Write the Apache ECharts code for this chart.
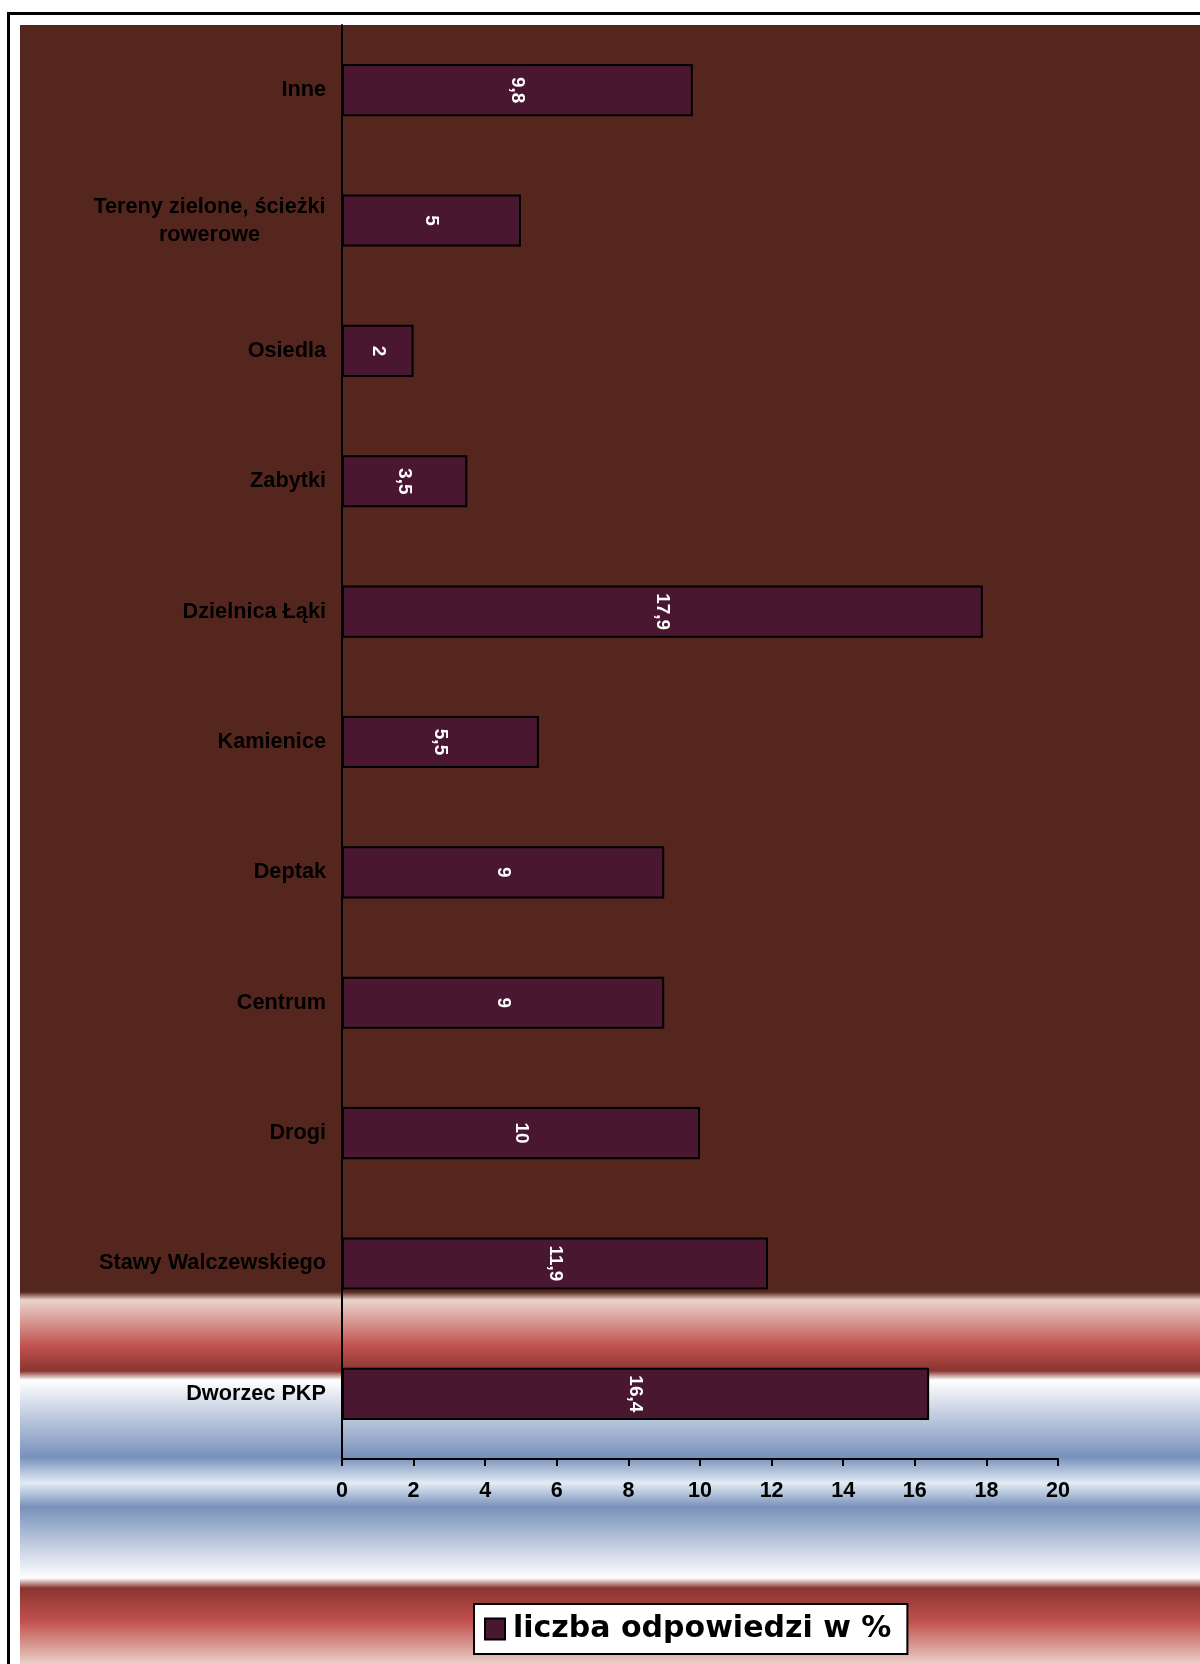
<!DOCTYPE html>
<html>
<head>
<meta charset="utf-8">
<script src="https://cdn.jsdelivr.net/npm/echarts@6/dist/echarts.min.js"></script>
<style>
html,body{margin:0;padding:0;background:#ffffff;}
#chart{width:1200px;height:1664px;}
</style>
</head>
<body>
<div id="chart"></div>
<script>
// Categories listed top to bottom
const categories = ['Inne', 'Tereny zielone, ścieżki\nrowerowe', 'Osiedla', 'Zabytki', 'Dzielnica Łąki', 'Kamienice', 'Deptak', 'Centrum', 'Drogi', 'Stawy Walczewskiego', 'Dworzec PKP'];
const values = [9.8, 5, 2, 3.5, 17.9, 5.5, 9, 9, 10, 11.9, 16.4];
const seriesName = 'liczba odpowiedzi w %';
const xTicks = [0, 20, 2]; // min, max, interval

const chart = echarts.init(document.getElementById('chart'), null, {renderer: 'canvas'});

const bgTop = 25, bgH = 1639;
function off(y) { return (y - bgTop) / bgH; }

const option = {
  animation: false,
  backgroundColor: '#ffffff',
  graphic: [
    {
      type: 'rect', z: -10, silent: true,
      shape: {x: 20, y: bgTop, width: 1200, height: bgH},
      style: {
        fill: new echarts.graphic.LinearGradient(0, 0, 0, 1, [
          {offset: 0, color: '#55261e'},
          {offset: off(1292), color: '#55261e'},
          {offset: off(1300), color: '#ead4cc'},
          {offset: off(1347), color: '#c0504d'},
          {offset: off(1371), color: '#8a3530'},
          {offset: off(1380), color: '#ffffff'},
          {offset: off(1457), color: '#7891bb'},
          {offset: off(1483), color: '#e2ecf5'},
          {offset: off(1507), color: '#7891bb'},
          {offset: off(1578), color: '#ffffff'},
          {offset: off(1588), color: '#8a3530'},
          {offset: off(1621), color: '#c0504d'},
          {offset: 1, color: '#ead0c8'}
        ])
      }
    },
    {
      type: 'rect', z: 100, silent: true,
      shape: {x: 8.5, y: 13.5, width: 1230, height: 1700},
      style: {fill: 'none', stroke: '#000000', lineWidth: 3}
    }
  ],
  grid: {left: 342, right: 142, top: 25, bottom: 205, containLabel: false},
  legend: {
    left: 474, top: 1604,
    padding: [10, 16, 10, 10],
    backgroundColor: '#ffffff',
    borderColor: '#000000', borderWidth: 2, borderRadius: 0,
    itemWidth: 20, itemHeight: 21,
    icon: 'rect',
    textStyle: {fontFamily: 'DejaVu Sans', fontWeight: 'bold', fontSize: 30, color: '#000000', padding: [0, 0, 0, 3]},
    data: [seriesName]
  },
  xAxis: {
    type: 'value', min: xTicks[0], max: xTicks[1], interval: xTicks[2],
    axisLine: {show: true, lineStyle: {color: '#000000', width: 2}},
    axisTick: {show: true, length: 7, lineStyle: {color: '#000000', width: 2}},
    splitLine: {show: false},
    axisLabel: {fontFamily: 'Liberation Sans', fontWeight: 'bold', fontSize: 21.5, color: '#000000', margin: 21}
  },
  yAxis: {
    type: 'category', inverse: true, data: categories,
    axisLine: {show: true, onZero: false, lineStyle: {color: '#000000', width: 2}},
    axisTick: {show: false},
    axisLabel: {
      margin: 16,
      fontFamily: 'Liberation Sans', fontWeight: 'bold', fontSize: 21.7, color: '#000000',
      formatter: function (v) {
        if (v.indexOf('\n') >= 0) {
          return v.split('\n').map(function (s) { return '{c|' + s + '}'; }).join('\n');
        }
        return v;
      },
      rich: {
        c: {width: 233, align: 'center', fontFamily: 'Liberation Sans', fontWeight: 'bold', fontSize: 21.7, color: '#000000', lineHeight: 28}
      }
    }
  },
  series: [{
    name: seriesName,
    type: 'bar',
    data: values,
    barWidth: '40%',
    itemStyle: {color: '#4a1731', borderColor: '#000000', borderWidth: 2},
    label: {
      show: true, position: 'inside', rotate: -90,
      align: 'center', verticalAlign: 'middle',
      fontFamily: 'Liberation Sans', fontWeight: 'bold', fontSize: 19, color: '#ffffff',
      formatter: function (p) { return String(p.value).replace('.', ','); }
    }
  }]
};
chart.setOption(option);
</script>
</body>
</html>
